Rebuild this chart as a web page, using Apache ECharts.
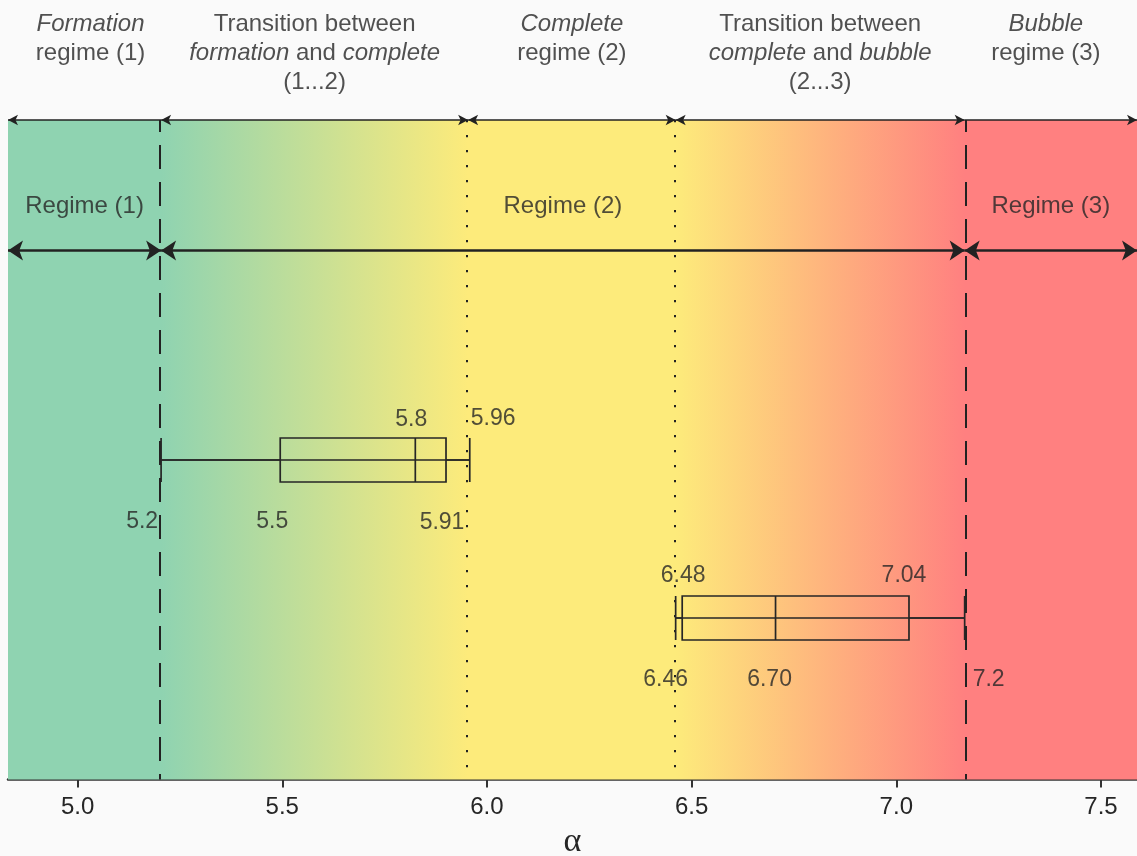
<!DOCTYPE html>
<html>
<head>
<meta charset="utf-8">
<script src="https://cdn.jsdelivr.net/npm/echarts@6/dist/echarts.min.js"></script>
<style>
html,body{margin:0;padding:0;background:#fafafa;}
#c{width:1137px;height:856px;}
</style>
</head>
<body>
<div id="c"></div>
<script>
// ---------- data ----------
const axisMin = 4.83;
const axisMax = 7.588;
const tickValues = [5.0, 5.5, 6.0, 6.5, 7.0, 7.5];
const tickLabels = ['5.0', '5.5', '6.0', '6.5', '7.0', '7.5'];
const axisTitle = 'α';

// regime boundaries on the alpha axis
const boundaries = [5.204, 5.954, 6.461, 7.167];
const boundaryKinds = ['dashed', 'dotted', 'dotted', 'dashed'];

// header texts for the 5 zones (rich text: i = italic, n = normal)
const headerTexts = [
  '{i|Formation}\n{n|regime (1)}',
  '{n|Transition between}\n{i|formation}{n| and }{i|complete}\n{n|(1...2)}',
  '{i|Complete}\n{n|regime (2)}',
  '{n|Transition between}\n{i|complete}{n| and }{i|bubble}\n{n|(2...3)}',
  '{i|Bubble}\n{n|regime (3)}'
];

const regimeNames = ['Regime (1)', 'Regime (2)', 'Regime (3)'];
const regimeColors = ['#8fd3b1', '#fdeb7b', '#ff8080'];

// box plots: [min, Q1, median, Q3, max]
const boxCategories = ['upper', 'lower'];
const boxStats = [
  [5.204, 5.495, 5.825, 5.900, 5.958],
  [6.461, 6.477, 6.705, 7.031, 7.167]
];
const boxLabelTexts = [
  ['5.2', '5.5', '5.8', '5.91', '5.96'],
  ['6.46', '6.48', '6.70', '7.04', '7.2']
];

// ---------- layout (not data) ----------
const ROW = { header: -16.7, topArrow: 0, regime: 13.1, bottomArrow: 19.8 };
// per label: [dx, dy, align]
const boxLabelLayout = [
  [[-3, 62, 'right'], [-8, 62, 'center'], [-4, -40, 'center'], [-4, 63, 'center'], [1, -41, 'left']],
  [[-10, 62, 'center'], [1, -42, 'center'], [-6, 62, 'center'], [-5, -42, 'center'], [8, 62, 'left']]
];
const headerDx = [6, 0, 0, 0, -5];

const FONT = '"Liberation Sans", Arial, Helvetica, sans-serif';
const INK = '#262626';
const TXT = '#262626';

const edges = [axisMin].concat(boundaries, [axisMax]);
const frac = v => (v - axisMin) / (axisMax - axisMin);

// background gradient across all zones
const bgGradient = {
  type: 'linear', x: 0, y: 0, x2: 1, y2: 0,
  colorStops: [
    { offset: 0, color: regimeColors[0] },
    { offset: frac(boundaries[0]), color: regimeColors[0] },
    { offset: frac(boundaries[1]), color: regimeColors[1] },
    { offset: frac(boundaries[2]), color: regimeColors[1] },
    { offset: frac(boundaries[3]), color: regimeColors[2] },
    { offset: 1, color: regimeColors[2] }
  ]
};

// vertical boundary lines
const boundaryLines = boundaries.map((b, i) => ({
  xAxis: b,
  lineStyle: boundaryKinds[i] === 'dashed'
    ? { type: [24, 13], width: 2, color: '#222', dashOffset: 12 }
    : { type: [2.2, 12.8], width: 2, color: '#222', dashOffset: 0 }
}));

// top arrow row: one arrow per zone (first zone: left head only, last zone: right head only)
const SMALL = [8, 10];
const BIG = [15, 15];
const nZones = edges.length - 1;
const topArrows = [];
for (let i = 0; i < nZones; i++) {
  topArrows.push([
    { coord: [edges[i], ROW.topArrow], symbol: i === nZones - 1 ? 'none' : 'arrow', symbolSize: SMALL },
    { coord: [edges[i + 1], ROW.topArrow], symbol: i === 0 ? 'none' : 'arrow', symbolSize: SMALL }
  ]);
}

// bottom arrow row: one arrow per regime
const regimeSpans = [[axisMin, boundaries[0]], [boundaries[0], boundaries[3]], [boundaries[3], axisMax]];
const bottomArrows = regimeSpans.map(s => [
  { coord: [s[0], ROW.bottomArrow], symbol: 'arrow', symbolSize: BIG },
  { coord: [s[1], ROW.bottomArrow], symbol: 'arrow', symbolSize: BIG }
]);

// texts
const headerData = headerTexts.map((t, i) => ({
  value: [(edges[i] + edges[i + 1]) / 2, ROW.header], name: t,
  label: { offset: [headerDx[i], 0] }
}));
const regimeData = regimeNames.map((t, i) => ({
  value: [(regimeSpans[i][0] + regimeSpans[i][1]) / 2, ROW.regime], name: t
}));
const boxLabelData = [];
boxStats.forEach((stats, r) => {
  stats.forEach((v, k) => {
    const lay = boxLabelLayout[r][k];
    boxLabelData.push({
      value: [v, r],
      name: boxLabelTexts[r][k],
      label: { offset: [lay[0], lay[1]], align: lay[2] }
    });
  });
});

// whisker lines running through each box (min -> max)
const whiskerSeries = boxStats.map((stats, r) => ({
  type: 'line', xAxisIndex: 1, yAxisIndex: 1, silent: true, z: 6,
  symbol: 'none', data: [[stats[0], r], [stats[4], r]],
  lineStyle: { color: INK, width: 1.7 }
}));

const chart = echarts.init(document.getElementById('c'));
chart.setOption({
  backgroundColor: '#fafafa',
  animation: false,
  grid: [
    { left: 8, right: 0, top: 120, bottom: 76.5, containLabel: false, outerBoundsMode: 'none' },
    { left: 8, right: 0, top: 381, height: 316, containLabel: false, outerBoundsMode: 'none' }
  ],
  xAxis: [
    {
      type: 'value', gridIndex: 0, min: axisMin, max: axisMax,
      splitLine: { show: false },
      axisLine: { show: true, onZero: false, lineStyle: { color: '#333', width: 2.5 } },
      axisTick: { show: true, customValues: tickValues, length: 8, inside: false,
        lineStyle: { color: '#333', width: 2 } },
      axisLabel: {
        show: true, customValues: tickValues, margin: 16,
        color: TXT, fontSize: 24, fontFamily: FONT,
        formatter: v => {
          const i = tickValues.findIndex(t => Math.abs(t - v) < 1e-6);
          return i >= 0 ? tickLabels[i] : '';
        }
      },
      name: axisTitle, nameLocation: 'middle', nameGap: 46,
      nameTextStyle: { fontSize: 34, color: TXT, fontFamily: '"Liberation Serif", "DejaVu Serif", serif' }
    },
    {
      type: 'value', gridIndex: 1, min: axisMin, max: axisMax, show: false,
      splitLine: { show: false }
    }
  ],
  yAxis: [
    { type: 'value', gridIndex: 0, min: 0, max: 100, inverse: true, show: false, splitLine: { show: false } },
    { type: 'category', gridIndex: 1, data: boxCategories, inverse: true, show: false,
      boundaryGap: true }
  ],
  series: [
    {
      // background zones
      type: 'scatter', xAxisIndex: 0, yAxisIndex: 0, data: [], z: 0, silent: true,
      markArea: {
        silent: true,
        itemStyle: { color: bgGradient, borderWidth: 0 },
        data: [[{ xAxis: axisMin, yAxis: 0 }, { xAxis: axisMax, yAxis: 100 }]]
      }
    },
    {
      // boundary lines
      type: 'scatter', xAxisIndex: 0, yAxisIndex: 0, data: [], z: 3, silent: true,
      markLine: {
        silent: true, animation: false,
        symbol: ['none', 'none'],
        label: { show: false },
        lineStyle: { color: '#222' },
        data: boundaryLines
      }
    },
    {
      type: 'scatter', xAxisIndex: 0, yAxisIndex: 0, data: [], z: 4, silent: true,
      markLine: {
        silent: true, animation: false,
        label: { show: false },
        lineStyle: { color: '#222', width: 1.5, type: 'solid' },
        data: topArrows
      }
    },
    {
      type: 'scatter', xAxisIndex: 0, yAxisIndex: 0, data: [], z: 4, silent: true,
      markLine: {
        silent: true, animation: false,
        label: { show: false },
        lineStyle: { color: '#222', width: 2.6, type: 'solid' },
        data: bottomArrows
      }
    },
    {
      // headers
      type: 'scatter', xAxisIndex: 0, yAxisIndex: 0, clip: false, silent: true, z: 5,
      symbolSize: 0, data: headerData,
      label: {
        show: true, position: 'inside', verticalAlign: 'top', align: 'center',
        formatter: p => p.name, lineHeight: 29,
        rich: {
          i: { fontStyle: 'italic', fontSize: 24, color: TXT, fontFamily: FONT, lineHeight: 29, align: 'center' },
          n: { fontSize: 24, color: TXT, fontFamily: FONT, lineHeight: 29, align: 'center' }
        }
      }
    },
    {
      // regime labels
      type: 'scatter', xAxisIndex: 0, yAxisIndex: 0, silent: true, z: 5,
      symbolSize: 0, data: regimeData,
      label: {
        show: true, position: 'inside', formatter: p => p.name,
        fontSize: 24, color: TXT, fontFamily: FONT
      }
    },
    {
      type: 'boxplot', xAxisIndex: 1, yAxisIndex: 1, silent: true, z: 6,
      data: boxStats, boxWidth: [44, 44],
      itemStyle: { color: 'rgba(0,0,0,0)', borderColor: INK, borderWidth: 1.7 }
    }
  ].concat(whiskerSeries, [
    {
      // box labels
      type: 'scatter', xAxisIndex: 1, yAxisIndex: 1, silent: true, z: 7, clip: false,
      symbolSize: 0, data: boxLabelData,
      label: {
        show: true, position: 'inside', verticalAlign: 'middle',
        formatter: p => p.name, fontSize: 23, color: TXT, fontFamily: FONT
      }
    }
  ])
});
</script>
</body>
</html>
